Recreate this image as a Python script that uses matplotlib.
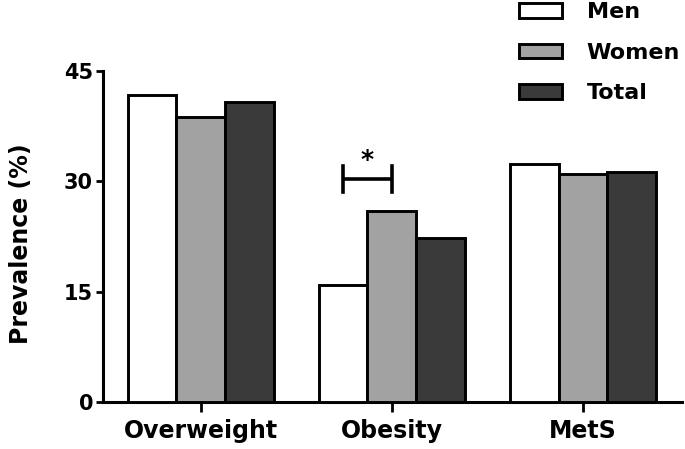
import numpy as np
import matplotlib
matplotlib.use('Agg')
import matplotlib.pyplot as plt
from matplotlib.patches import Patch

plt.rcParams['font.family'] = ['DejaVu Sans']
plt.rcParams['font.weight'] = 'bold'

categories = ['Overweight', 'Obesity', 'MetS']
series = ['Men', 'Women', 'Total']
men = [41.7, 15.9, 32.3]
women = [38.7, 26.0, 31.0]
total = [40.8, 22.3, 31.3]
yticks = [0, 15, 30, 45]

colors = ['#ffffff', '#a2a2a2', '#3a3a3a']
width = 0.255

fig = plt.figure(figsize=(6.85, 4.49), dpi=100)
ax = fig.add_axes([0.150, 0.1047, 0.846, 0.7373])

x = np.arange(len(categories))
for i, (vals, c) in enumerate(zip([men, women, total], colors)):
    ax.bar(x + (i - 1) * width, vals, width, color=c, edgecolor='black',
           linewidth=2.1, zorder=3)

# significance bracket on obesity (men vs women)
bx0 = x[1] - width
bx1 = x[1]
by = 30.3
ax.plot([bx0, bx1], [by, by], color='black', lw=2.6, solid_capstyle='butt')
ax.plot([bx0, bx0], [by - 1.75, by + 1.75], color='black', lw=2.6)
ax.plot([bx1, bx1], [by - 1.75, by + 1.75], color='black', lw=2.6)
ax.text((bx0 + bx1) / 2, 32.9, '*', ha='center', va='center',
        fontsize=18, fontweight='bold')

ax.set_xlim(-0.513, 2.52)
ax.set_ylim(0, 45)
ax.set_yticks(yticks)
ax.set_xticks(x)
ax.set_xticklabels(categories, fontsize=17, fontweight='bold')
ax.tick_params(axis='y', labelsize=15, width=2, length=5, pad=2)
ax.tick_params(axis='x', width=2, length=7, pad=5)
for t in ax.get_yticklabels():
    t.set_fontweight('bold')
ax.set_ylabel('Prevalence (%)', fontsize=17, fontweight='bold')
ax.yaxis.set_label_coords(-0.121, 0.477)

for s in ['top', 'right']:
    ax.spines[s].set_visible(False)
for s in ['left', 'bottom']:
    ax.spines[s].set_linewidth(2.2)

handles = [Patch(facecolor=c, edgecolor='black', linewidth=2.1) for c in colors]
fig.legend(handles, series, loc='upper left', bbox_to_anchor=(0.745, 1.015),
           frameon=False, handlelength=1.94, handleheight=0.63,
           labelspacing=0.93, handletextpad=1.1, borderaxespad=0,
           prop={'weight': 'bold', 'size': 16})

fig.savefig('out.png', dpi=100)
